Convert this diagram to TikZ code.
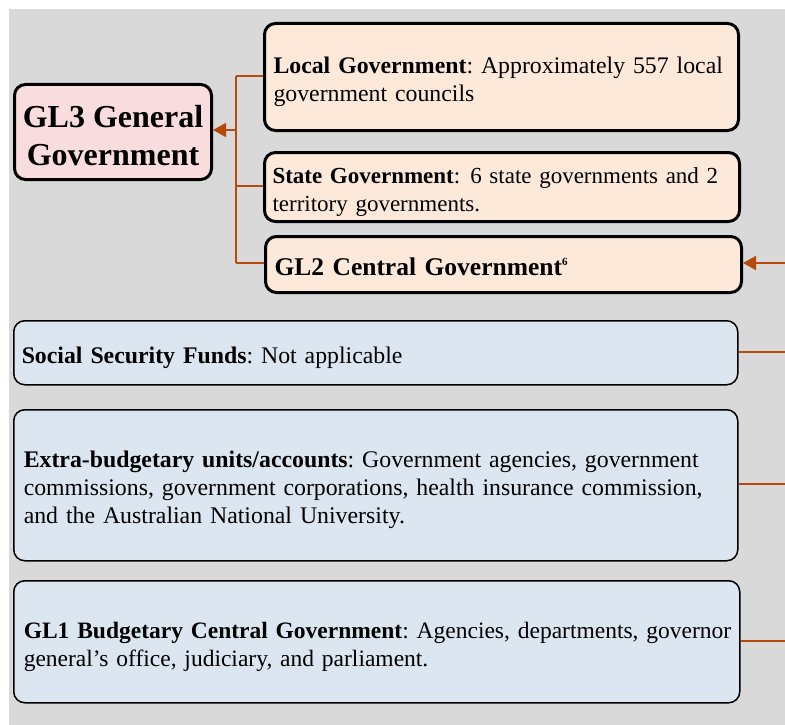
\documentclass[tikz,border=0pt]{standalone}
\usepackage{fontspec}
\setmainfont{Liberation Serif}
\usetikzlibrary{arrows.meta}
\frenchspacing
\definecolor{bggray}{RGB}{217,217,217}
\definecolor{pinkfill}{RGB}{249,221,222}
\definecolor{peachfill}{RGB}{253,233,217}
\definecolor{bluefill}{RGB}{220,230,241}
\definecolor{linkc}{RGB}{181,74,12}
\newcommand{\dn}[1]{\raisebox{-5pt}[\height][\depth]{\begin{tabular}{@{}l@{}}#1\end{tabular}}}
\tikzset{
  topbox/.style={draw=black, line width=3pt, rounded corners=11pt, fill=peachfill, anchor=north west, inner xsep=9pt, inner ysep=0pt, align=left, font=\fontsize{23.8}{28}\selectfont},
  lowbox/.style={draw=black, line width=1.5pt, rounded corners=11pt, fill=bluefill, anchor=north west, inner xsep=8pt, inner ysep=0pt, align=left, font=\fontsize{23.8}{28}\selectfont},
  link/.style={draw=linkc, line width=1.8pt},
  linkarrow/.style={link, -{Triangle[length=13pt,width=14pt]}},
}
\begin{document}
\begin{tikzpicture}[x=1pt,y=-1pt]
\useasboundingbox (0,0) rectangle (785,725);
\fill[bggray] (9,9) rectangle (785,725);
% GL3
\node[draw=black, line width=3pt, rounded corners=11pt, fill=pinkfill, anchor=north west, minimum width=197pt, minimum height=95pt, inner sep=0pt, align=center, font=\fontsize{32}{38}\selectfont\bfseries] (gl3) at (13,83) {\raisebox{-7pt}[\height][\depth]{\begin{tabular}{@{}c@{}}GL3 General\\Government\end{tabular}}};
% top boxes
\node[topbox, minimum width=474pt, minimum height=107pt, text width=456pt] (local) at (263,22) {\dn{\textbf{Local Government}: Approximately 557 local\\government councils}};
\node[topbox, minimum width=475pt, minimum height=69pt, text width=459pt, inner xsep=8pt, font=\fontsize{23}{28}\selectfont] (state) at (263,151) {\dn{\textbf{State Government}:\hspace{10pt}6 state governments and 2\\territory governments.}};
\node[topbox, minimum width=476pt, minimum height=56pt, text width=458pt, font=\fontsize{25.5}{28}\selectfont] (gl2) at (264,235) {\dn{\textbf{GL2 Central Government}\raisebox{0.8ex}{\fontsize{11}{11}\selectfont\bfseries 6}}};
% lower boxes
\node[lowbox, minimum width=724pt, minimum height=64pt, text width=708pt] (ssf) at (13,320) {\dn{\textbf{Social Security Funds}: Not applicable}};
\node[lowbox, minimum width=724pt, minimum height=151pt, text width=704pt, inner xsep=10pt] (ebu) at (13,409) {\dn{\textbf{Extra-budgetary units/accounts}: Government agencies, government\\commissions, government corporations, health insurance commission,\\and the Australian National University.}};
\node[lowbox, minimum width=726pt, minimum height=122pt, text width=706pt, inner xsep=10pt, font=\fontsize{23.5}{28}\selectfont] (gl1) at (13,580) {\dn{\textbf{GL1 Budgetary Central Government}: Agencies, departments, governor\\general’s office, judiciary, and parliament.}};
% connectors
\coordinate (bus) at (236,130);
\coordinate (busTop) at (236,76);
\coordinate (busBot) at (236,263);
\coordinate (rGL2) at (785,263);
\coordinate (rSSF) at (785,352);
\coordinate (rEBU) at (785,484);
\coordinate (rGL1) at (785,641);
\draw[link] (busTop) -- (busBot);
\draw[link] (busTop) -- (busTop -| local.west);
\draw[link] (236,186) coordinate (bs) -- (bs -| state.west);
\draw[link] (busBot) -- (busBot -| gl2.west);
\draw[linkarrow] (bus) -- (bus -| gl3.east);
\draw[linkarrow] (rGL2) -- (rGL2 -| gl2.east);
\draw[link] (rSSF) -- (rSSF -| ssf.east);
\draw[link] (rEBU) -- (rEBU -| ebu.east);
\draw[link] (rGL1) -- (rGL1 -| gl1.east);
\end{tikzpicture}
\end{document}
